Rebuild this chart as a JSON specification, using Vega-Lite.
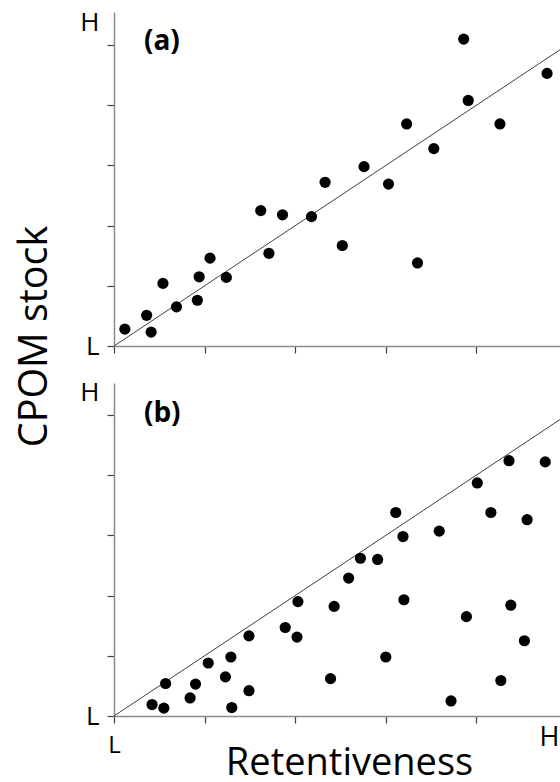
{
  "$schema": "https://vega.github.io/schema/vega-lite/v6.json",
  "autosize": {"type": "pad"},
  "padding": {"left": 14, "top": 9, "right": 0, "bottom": 0},
  "background": "white",
  "config": {
    "view": {"stroke": null},
    "font": "Open Sans",
    "axis": {
      "grid": false,
      "domainColor": "#8c8c8c",
      "domainWidth": 1.5,
      "tickColor": "#404040",
      "tickWidth": 1.2,
      "tickSize": 7,
      "labelColor": "black",
      "labelFont": "Open Sans",
      "labelFlush": false,
      "labelOverlap": false,
      "labelBound": false,
      "titleFont": "Open Sans",
      "titleFontWeight": "normal",
      "titleColor": "black"
    }
  },
  "datasets": {
    "a": [
      {"x": 0.12, "y": 0.28}, {"x": 0.36, "y": 0.51}, {"x": 0.41, "y": 0.23}, {"x": 0.54, "y": 1.04},
      {"x": 0.69, "y": 0.65}, {"x": 0.92, "y": 0.76}, {"x": 0.94, "y": 1.15}, {"x": 1.06, "y": 1.46},
      {"x": 1.24, "y": 1.14}, {"x": 1.62, "y": 2.25}, {"x": 1.71, "y": 1.54}, {"x": 1.86, "y": 2.18},
      {"x": 2.18, "y": 2.15}, {"x": 2.33, "y": 2.72}, {"x": 2.52, "y": 1.67}, {"x": 2.76, "y": 2.98},
      {"x": 3.03, "y": 2.69}, {"x": 3.23, "y": 3.69}, {"x": 3.35, "y": 1.38}, {"x": 3.53, "y": 3.28},
      {"x": 3.86, "y": 5.10}, {"x": 3.91, "y": 4.08}, {"x": 4.26, "y": 3.69}, {"x": 4.78, "y": 4.53}
    ],
    "b": [
      {"x": 0.42, "y": 0.19}, {"x": 0.55, "y": 0.13}, {"x": 0.57, "y": 0.54}, {"x": 0.84, "y": 0.30},
      {"x": 0.90, "y": 0.53}, {"x": 1.04, "y": 0.88}, {"x": 1.23, "y": 0.65}, {"x": 1.29, "y": 0.98},
      {"x": 1.30, "y": 0.14}, {"x": 1.49, "y": 0.42}, {"x": 1.49, "y": 1.33}, {"x": 1.89, "y": 1.47},
      {"x": 2.02, "y": 1.31}, {"x": 2.03, "y": 1.90}, {"x": 2.39, "y": 0.62}, {"x": 2.43, "y": 1.82},
      {"x": 2.59, "y": 2.29}, {"x": 2.72, "y": 2.62}, {"x": 2.91, "y": 2.60}, {"x": 3.00, "y": 0.98},
      {"x": 3.11, "y": 3.38}, {"x": 3.19, "y": 2.98}, {"x": 3.20, "y": 1.93}, {"x": 3.59, "y": 3.07},
      {"x": 3.72, "y": 0.25}, {"x": 3.89, "y": 1.65}, {"x": 4.01, "y": 3.87}, {"x": 4.16, "y": 3.38},
      {"x": 4.27, "y": 0.59}, {"x": 4.36, "y": 4.24}, {"x": 4.38, "y": 1.84}, {"x": 4.53, "y": 1.25},
      {"x": 4.56, "y": 3.26}, {"x": 4.76, "y": 4.22}
    ],
    "diag": [{"x": 0, "y": 0}, {"x": 6, "y": 6}],
    "labA": [{"x": 0.33, "y": 4.92, "t": "(a)"}],
    "labB": [{"x": 0.33, "y": 4.88, "t": "(b)"}]
  },
  "spacing": 37,
  "bounds": "flush",
  "vconcat": [
    {
      "width": 447,
      "height": 334,
      "encoding": {
        "x": {
          "field": "x", "type": "quantitative",
          "scale": {"domain": [0, 4.934], "nice": false, "zero": false},
          "axis": {"values": [0, 1, 2, 3, 4], "labels": false, "title": null}
        },
        "y": {
          "field": "y", "type": "quantitative",
          "scale": {"domain": [0, 5.55], "nice": false, "zero": false},
          "axis": {
            "values": [0, 1, 2, 3, 4, 5, 5.37],
            "labelExpr": "datum.value == 0 ? 'L' : (datum.value > 5 ? 'H' : '')",
            "tickOpacity": {"condition": {"test": "datum.value > 5", "value": 0}, "value": 1},
            "labelFontSize": 26,
            "labelPadding": 8,
            "title": "CPOM stock",
            "titleFontSize": 39.5,
            "titleAngle": 270,
            "titleAlign": "center",
            "titleBaseline": "alphabetic",
            "titleX": -68,
            "titleY": 324
          }
        }
      },
      "layer": [
        {"data": {"name": "diag"}, "mark": {"type": "line", "clip": true, "color": "#404040", "strokeWidth": 1}},
        {"data": {"name": "a"}, "mark": {"type": "circle", "size": 125, "opacity": 1, "color": "black"}},
        {"data": {"name": "labA"}, "mark": {"type": "text", "font": "Open Sans", "fontWeight": "bold", "fontSize": 28, "align": "left", "baseline": "alphabetic", "color": "black"}, "encoding": {"text": {"field": "t"}}}
      ]
    },
    {
      "width": 447,
      "height": 333,
      "encoding": {
        "x": {
          "field": "x", "type": "quantitative",
          "scale": {"domain": [0, 4.934], "nice": false, "zero": false},
          "axis": {
            "values": [0, 1, 2, 3, 4, 4.8],
            "labelExpr": "datum.value == 0 ? 'L' : (datum.value > 4.5 ? 'H' : '')",
            "tickOpacity": {"condition": {"test": "datum.value > 4.5", "value": 0}, "value": 1},
            "labelPadding": {"condition": {"test": "datum.value > 4.5", "value": 1}, "value": 10},
            "labelFontSize": {"condition": {"test": "datum.value > 4.5", "value": 27}, "value": 24},
            "title": "Retentiveness",
            "titleFontSize": 38,
            "titleAlign": "center",
            "titleBaseline": "alphabetic",
            "titleX": 235,
            "titleY": 58
          }
        },
        "y": {
          "field": "y", "type": "quantitative",
          "scale": {"domain": [0, 5.53], "nice": false, "zero": false},
          "axis": {
            "values": [0, 1, 2, 3, 4, 5, 5.37],
            "labelExpr": "datum.value == 0 ? 'L' : (datum.value > 5 ? 'H' : '')",
            "tickOpacity": {"condition": {"test": "datum.value > 5", "value": 0}, "value": 1},
            "labelFontSize": 26,
            "labelPadding": 8,
            "title": null
          }
        }
      },
      "layer": [
        {"data": {"name": "diag"}, "mark": {"type": "line", "clip": true, "color": "#404040", "strokeWidth": 1}},
        {"data": {"name": "b"}, "mark": {"type": "circle", "size": 125, "opacity": 1, "color": "black"}},
        {"data": {"name": "labB"}, "mark": {"type": "text", "font": "Open Sans", "fontWeight": "bold", "fontSize": 28, "align": "left", "baseline": "alphabetic", "color": "black"}, "encoding": {"text": {"field": "t"}}}
      ]
    }
  ]
}
